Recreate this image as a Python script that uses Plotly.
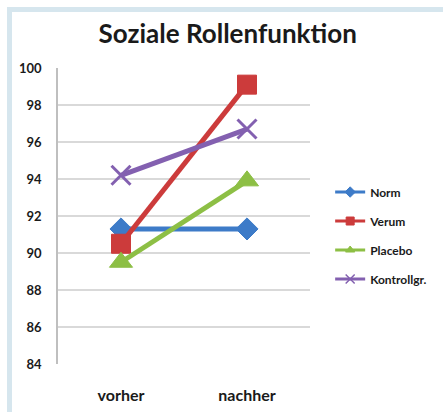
import plotly.graph_objects as go

categories = ["vorher", "nachher"]
norm = [91.3, 91.3]
verum = [90.5, 99.1]
placebo = [89.5, 93.9]
kontroll = [94.2, 96.7]
y_ticks = [84, 86, 88, 90, 92, 94, 96, 98, 100]

series = [
    ("Norm", norm, "#3D7BC8", "diamond", 17, 1, "diamond", 8),
    ("Verum", verum, "#CC3B3B", "square", 19, 1, "square", 8),
    ("Placebo", placebo, "#8DBF45", "triangle-up", 20, 1, "triangle-up", 8),
    ("Kontrollgr.", kontroll, "#8360B0", "x-thin", 19, 3, "x-thin", 9),
]

fig = go.Figure()
for i, (name, vals, col, sym, sz, lw, lsym, lsz) in enumerate(series):
    fig.add_trace(go.Scatter(
        x=categories, y=vals, name=name, mode="lines+markers",
        showlegend=False,
        line=dict(color=col, width=5),
        marker=dict(symbol=sym, size=sz, color=col,
                    line=dict(color=col, width=lw)),
    ))
for i, (name, vals, col, sym, sz, lw, lsym, lsz) in enumerate(series):
    fig.add_trace(go.Scatter(
        x=[None], y=[None], name=name, mode="lines+markers",
        legendgroup=f"g{i}", showlegend=True,
        line=dict(color=col, width=3),
        marker=dict(symbol=lsym, size=lsz, color=col,
                    line=dict(color=col, width=1.5 if lsym == "x-thin" else 1)),
    ))

font_family = "Lato, 'Open Sans', sans-serif"
fig.update_layout(
    width=443, height=412,
    margin=dict(l=58, r=133, t=68, b=48, autoexpand=False),
    paper_bgcolor="white", plot_bgcolor="white",
    title=dict(text="<b>Soziale Rollenfunktion</b>", x=0.514, xanchor="center",
               y=0.917, yanchor="middle",
               font=dict(family=font_family, size=26, color="#1a1a1a")),
    showlegend=True,
    legend=dict(x=1.08, xanchor="left", y=0.63, yanchor="top",
                traceorder="grouped", tracegroupgap=10,
                font=dict(family=font_family, size=12, color="#1a1a1a", weight="bold"),
                itemwidth=30, bgcolor="rgba(0,0,0,0)"),
    font=dict(family=font_family, color="#1a1a1a"),
    xaxis=dict(
        type="category", range=[-0.5, 1.5], showgrid=False, zeroline=False,
        showline=False, ticks="outside", ticklen=17, tickcolor="rgba(0,0,0,0)",
        automargin=False,
        tickfont=dict(family=font_family, size=16, color="#1a1a1a", weight="bold"),
    ),
    yaxis=dict(
        range=[84, 100], tickvals=y_ticks, showgrid=True, gridcolor="#D9D9D9",
        gridwidth=1.5, zeroline=False, showline=True, linecolor="#BFBFBF",
        linewidth=1.5, ticks="outside", ticklen=12, tickcolor="rgba(0,0,0,0)",
        automargin=False,
        tickfont=dict(family=font_family, size=13, color="#1a1a1a", weight="bold"),
    ),
    shapes=[
        dict(type="rect", xref="paper", yref="paper", x0=-0.2024, x1=-0.1825,
             y0=-0.2, y1=1.2061, fillcolor="#D6E6EE", line=dict(width=0), layer="below"),
        dict(type="rect", xref="paper", yref="paper", x0=-0.2024, x1=1.6,
             y0=1.1892, y1=1.2061, fillcolor="#D6E6EE", line=dict(width=0), layer="below"),
    ],
)

fig.write_html("out.html", config={"displayModeBar": False},
               post_script="document.body.style.margin='0';")
